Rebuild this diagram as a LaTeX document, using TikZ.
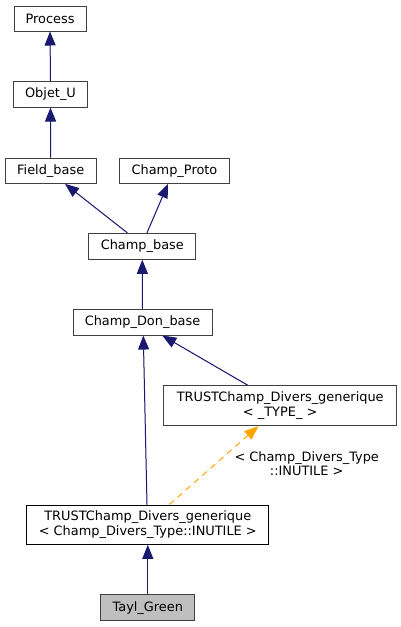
\documentclass[tikz,border=0pt]{standalone}
\usepackage{fontspec}
\setmainfont{DejaVu Sans}
\usetikzlibrary{arrows.meta}
\definecolor{edgeblue}{RGB}{25,25,112}
\definecolor{boxgray}{RGB}{64,64,64}
\definecolor{tmplorange}{RGB}{255,165,0}
\definecolor{leaffill}{RGB}{191,191,191}
\begin{document}
\begin{tikzpicture}[x=1pt,y=-1pt,
  cls/.style={draw=boxgray, line width=1pt, fill=white, inner sep=0pt, font=\fontsize{12.9}{14.5}\selectfont, align=center},
  inh/.style={draw=edgeblue, line width=1pt, -{Triangle[length=14pt,width=11pt]}, fill=edgeblue},
  tpl/.style={draw=tmplorange, line width=1pt, dashed, dash pattern=on 6pt off 5pt, -{Triangle[length=14pt,width=11pt,fill=tmplorange]}},
]
\useasboundingbox (0,0) rectangle (401,627);
\node[cls, minimum width=72pt, minimum height=25pt] (process) at (50,18.5) {Process};
\node[cls, minimum width=74.5pt, minimum height=25.5pt] (objet) at (50.5,94.3) {Objet\_U};
\node[cls, minimum width=90.7pt, minimum height=25.3pt] (field) at (50.7,170.7) {Field\_base};
\node[cls, minimum width=109.6pt, minimum height=25.3pt] (proto) at (174.5,170.7) {Champ\_Proto};
\node[cls, minimum width=107.3pt, minimum height=26pt] (cbase) at (142.3,246.3) {Champ\_base};
\node[cls, minimum width=139pt, minimum height=25.7pt] (cdon) at (142.5,322.2) {Champ\_Don\_base};
\node[cls, minimum width=233pt, minimum height=40pt] (ttype) at (280.2,405.7) {TRUSTChamp\_Divers\_generique\\< \_TYPE\_ >};
\node[cls, draw=black, minimum width=242.3pt, minimum height=39.3pt] (tinut) at (147.8,524.7) {TRUSTChamp\_Divers\_generique\\< Champ\_Divers\_Type::INUTILE >};
\node[cls, fill=leaffill, minimum width=94.3pt, minimum height=25.7pt] (tayl) at (147.8,607.8) {Tayl\_Green};

\draw[inh] (objet.north) -- (process.south);
\draw[inh] (field.north) -- (objet.south);
\draw[inh] ([xshift=-15pt]cbase.north) -- ([xshift=14.3pt]field.south);
\draw[inh] ([xshift=4.7pt]cbase.north) -- ([xshift=-6.5pt]proto.south);
\draw[inh] (cdon.north) -- (cbase.south);
\draw[inh] ([xshift=-0.8pt]tinut.north) -- ([xshift=0.8pt]cdon.south);
\draw[inh] ([xshift=-32.5pt]ttype.north) -- ([xshift=19.8pt]cdon.south);
\draw[tpl] ([xshift=21.5pt]tinut.north) -- ([xshift=-21.9pt]ttype.south);
\node[font=\fontsize{12.9}{14.5}\selectfont, align=center, inner sep=0pt] (tlabel) at (306.7,463.5) {< Champ\_Divers\_Type\\::INUTILE >};
\draw[inh] (tayl.north) -- (tinut.south);
\end{tikzpicture}
\end{document}
